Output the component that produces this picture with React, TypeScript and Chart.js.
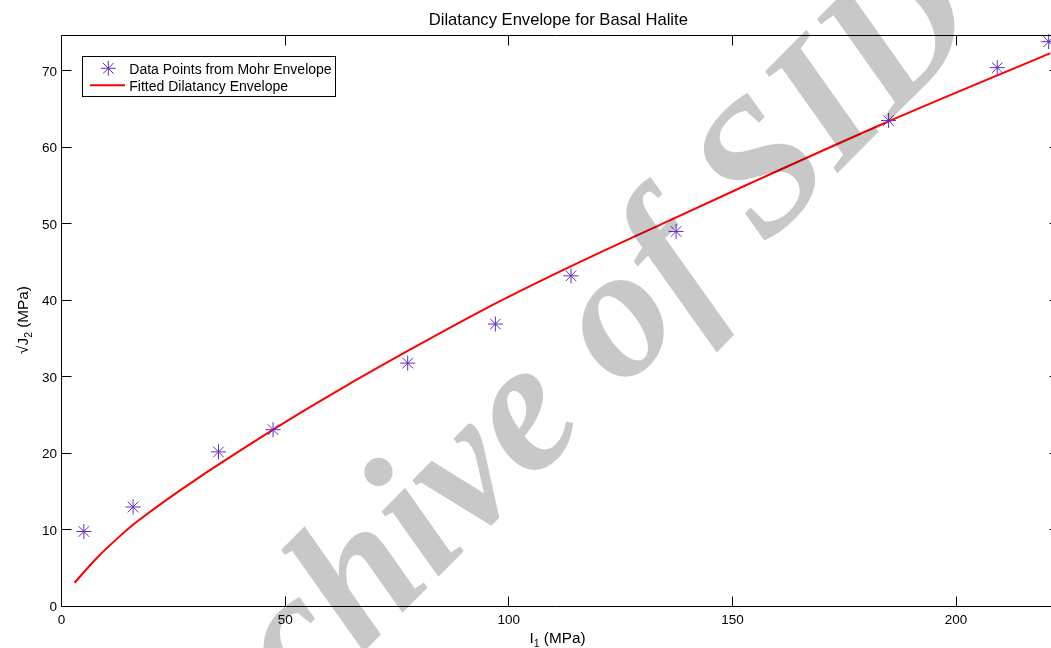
import React, { useEffect, useRef } from "react";
import { Chart, registerables } from "chart.js";

Chart.register(...registerables);

// Mohr-envelope data points (I1, sqrt(J2)), both in MPa
const MOHR_I1 = [5.0, 16.0, 35.1, 47.3, 77.4, 97.0, 113.9, 137.4, 184.9, 209.2, 220.7];
const MOHR_SQRT_J2 = [9.8, 13.0, 20.2, 23.1, 31.8, 36.9, 43.2, 49.0, 63.5, 70.4, 73.8];

// Fitted dilatancy envelope, sampled along the curve
const FIT_I1 = [2.9, 8.0, 12.5, 16.9, 47.3, 65.3, 77.4, 94.4, 113.0, 133.9, 154.0, 184.6, 221.1];
const FIT_SQRT_J2 = [3.1, 6.4, 8.9, 11.1, 23.1, 29.4, 33.4, 38.8, 44.2, 49.9, 55.3, 63.3, 72.3];

const X_TICKS = [0, 50, 100, 150, 200];
const Y_TICKS = [0, 10, 20, 30, 40, 50, 60, 70];
// visible part of the x range; the axes box continues a little past the right edge
const X_LIMITS = [0, 221.1];
const Y_LIMITS = [0, 74.6];
const HIDDEN_RIGHT = 9; // px of the box beyond the right edge of the canvas

const TITLE = "Dilatancy Envelope for Basal Halite";
const LEGEND_LABELS = ["Data Points from Mohr Envelope", "Fitted Dilatancy Envelope"];
const WATERMARK = "Archive of SID";

const SANS = '"Liberation Sans", Arial, Helvetica, sans-serif';
const SERIF = '"Liberation Serif", "Times New Roman", serif';
const MARKER_COLOR = "rgb(98, 44, 198)";
const LINE_COLOR = "#ff0000";
const TICK_LEN = 10;
const WIDTH = 1051;
const HEIGHT = 648;

function drawStar(ctx: CanvasRenderingContext2D, cx: number, cy: number, r: number) {
  ctx.beginPath();
  for (let k = 0; k < 4; k++) {
    const a = (k * Math.PI) / 4;
    const dx = Math.cos(a) * r;
    const dy = Math.sin(a) * r;
    ctx.moveTo(cx - dx, cy - dy);
    ctx.lineTo(cx + dx, cy + dy);
  }
  ctx.stroke();
}

// Label with a subscript: main + sub + rest, centred on (cx, baseline cy)
function drawSubscripted(
  ctx: CanvasRenderingContext2D,
  main: string,
  sub: string,
  rest: string,
  cx: number,
  cy: number,
  vertical: boolean
) {
  const big = `15.3px ${SANS}`;
  const small = `10.5px ${SANS}`;
  ctx.font = big;
  const w1 = ctx.measureText(main).width;
  const w3 = ctx.measureText(rest).width;
  ctx.font = small;
  const w2 = ctx.measureText(sub).width;
  const total = w1 + w2 + w3;
  ctx.save();
  ctx.translate(cx, cy);
  if (vertical) ctx.rotate(-Math.PI / 2);
  ctx.textAlign = "left";
  ctx.textBaseline = "alphabetic";
  let x = -total / 2;
  ctx.font = big;
  ctx.fillText(main, x, 0);
  x += w1;
  ctx.font = small;
  ctx.fillText(sub, x, 4);
  x += w2;
  ctx.font = big;
  ctx.fillText(rest, x, 0);
  ctx.restore();
}

const axesDecor = {
  id: "axesDecor",
  afterDraw(chart: any) {
    const ctx: CanvasRenderingContext2D = chart.ctx;
    const a = chart.chartArea;
    const xs = chart.scales.x;
    const ys = chart.scales.y;
    const boxRight = a.right + HIDDEN_RIGHT;

    ctx.save();
    // box and inward ticks on all four sides
    ctx.strokeStyle = "#000";
    ctx.lineWidth = 1;
    ctx.beginPath();
    ctx.moveTo(a.left, a.top);
    ctx.lineTo(boxRight, a.top);
    ctx.lineTo(boxRight, a.bottom);
    ctx.lineTo(a.left, a.bottom);
    ctx.closePath();
    X_TICKS.forEach((v) => {
      const x = Math.floor(xs.getPixelForValue(v)) + 0.5;
      ctx.moveTo(x, a.bottom);
      ctx.lineTo(x, a.bottom - TICK_LEN);
      ctx.moveTo(x, a.top);
      ctx.lineTo(x, a.top + TICK_LEN);
    });
    Y_TICKS.forEach((v) => {
      const y = Math.floor(ys.getPixelForValue(v)) + 0.5;
      ctx.moveTo(a.left, y);
      ctx.lineTo(a.left + TICK_LEN, y);
      ctx.moveTo(boxRight, y);
      ctx.lineTo(boxRight - TICK_LEN, y);
    });
    ctx.stroke();

    // tick labels
    ctx.fillStyle = "#000";
    ctx.font = `13.5px ${SANS}`;
    ctx.textBaseline = "alphabetic";
    ctx.textAlign = "center";
    X_TICKS.forEach((v) => {
      ctx.fillText(String(v), xs.getPixelForValue(v), a.bottom + 17);
    });
    ctx.textAlign = "right";
    Y_TICKS.forEach((v) => {
      ctx.fillText(String(v), a.left - 4.5, ys.getPixelForValue(v) + 4.8);
    });

    // title
    ctx.font = `16.6px ${SANS}`;
    ctx.textAlign = "center";
    ctx.fillText(TITLE, 558.3, 25.3);

    // axis labels
    drawSubscripted(ctx, "I", "1", " (MPa)", 557.5, 643, false);
    drawSubscripted(ctx, "\u221AJ", "2", " (MPa)", 28, 320, true);

    // legend
    const lx = 82.5, ly = 56.5, lw = 253, lh = 40;
    ctx.fillStyle = "#fff";
    ctx.fillRect(lx, ly, lw, lh);
    ctx.strokeStyle = "#000";
    ctx.lineWidth = 1;
    ctx.strokeRect(lx, ly, lw, lh);
    ctx.strokeStyle = MARKER_COLOR;
    drawStar(ctx, 108.3, 68.3, 7.5);
    ctx.strokeStyle = LINE_COLOR;
    ctx.lineWidth = 2;
    ctx.beginPath();
    ctx.moveTo(90, 85.3);
    ctx.lineTo(125, 85.3);
    ctx.stroke();
    ctx.fillStyle = "#000";
    ctx.font = `14px ${SANS}`;
    ctx.textAlign = "left";
    ctx.fillText(LEGEND_LABELS[0], 129.3, 74);
    ctx.fillText(LEGEND_LABELS[1], 129.3, 90.7);

    // translucent diagonal watermark over the plot
    ctx.save();
    ctx.translate(163, 855);
    ctx.rotate((-45.3 * Math.PI) / 180);
    ctx.font = `italic bold 188px ${SERIF}`;
    ctx.fillStyle = "rgba(0, 0, 0, 0.216)";
    ctx.textAlign = "left";
    ctx.textBaseline = "alphabetic";
    ctx.fillText(WATERMARK, 0, 0);
    ctx.restore();

    ctx.restore();
  },
};

export default function App() {
  const canvasRef = useRef<HTMLCanvasElement | null>(null);

  useEffect(() => {
    document.body.style.margin = "0";
    const canvas = canvasRef.current;
    if (!canvas) return;

    const chart = new Chart(canvas, {
      type: "scatter",
      data: {
        datasets: [
          {
            label: LEGEND_LABELS[0],
            data: MOHR_I1.map((x, i) => ({ x, y: MOHR_SQRT_J2[i] })),
            showLine: false,
            pointStyle: "star",
            pointRadius: 7.5,
            pointBorderWidth: 1,
            borderColor: MARKER_COLOR,
            backgroundColor: MARKER_COLOR,
            order: 0,
            clip: false,
          } as any,
          {
            label: LEGEND_LABELS[1],
            data: FIT_I1.map((x, i) => ({ x, y: FIT_SQRT_J2[i] })),
            showLine: true,
            pointRadius: 0,
            borderColor: LINE_COLOR,
            borderWidth: 2,
            fill: false,
            cubicInterpolationMode: "monotone",
            order: 1,
          } as any,
        ],
      },
      options: {
        responsive: false,
        animation: false,
        devicePixelRatio: 1,
        events: [],
        layout: { autoPadding: false, padding: { left: 61.5, top: 35.5, right: 0.5, bottom: 41.5 } },
        scales: {
          x: { type: "linear", min: X_LIMITS[0], max: X_LIMITS[1], display: false },
          y: { type: "linear", min: Y_LIMITS[0], max: Y_LIMITS[1], display: false },
        },
        plugins: {
          legend: { display: false },
          tooltip: { enabled: false },
          title: { display: false },
        },
      },
      plugins: [axesDecor],
    });

    return () => chart.destroy();
  }, []);

  return (
    <div style={{ width: WIDTH, height: HEIGHT, overflow: "hidden", background: "#fff" }}>
      <canvas ref={canvasRef} width={WIDTH} height={HEIGHT} style={{ display: "block" }} />
    </div>
  );
}
